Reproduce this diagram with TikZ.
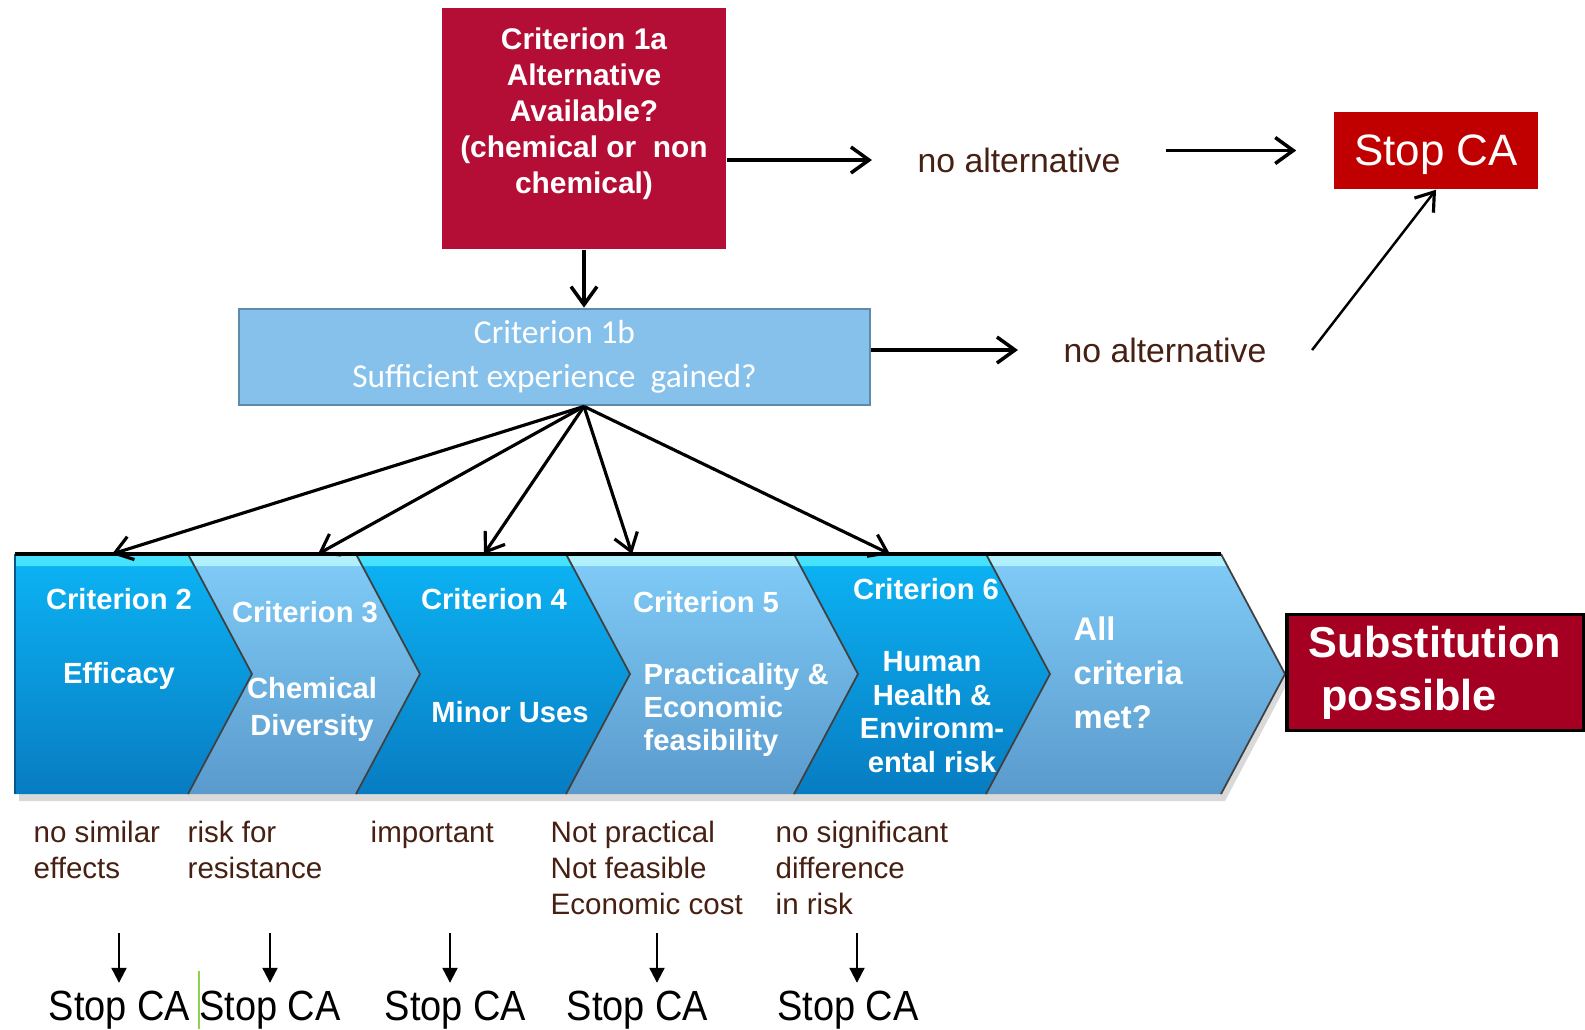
\documentclass[tikz,border=0pt]{standalone}
\usepackage{fontspec}
\setmainfont{Liberation Sans}
\newfontfamily\calfont{Carlito}
\newfontfamily\stopfont[FakeStretch=0.9]{Liberation Sans}
\usetikzlibrary{arrows.meta}

\definecolor{critred}{RGB}{181,14,54}
\definecolor{stopred}{RGB}{192,0,0}
\definecolor{subred}{RGB}{165,0,33}
\definecolor{boxblue}{RGB}{134,193,235}
\definecolor{boxedge}{RGB}{92,139,172}
\definecolor{brightblue}{RGB}{12,180,245}
\definecolor{darkblue}{RGB}{8,124,194}
\definecolor{paleblue}{RGB}{128,204,248}
\definecolor{greyblue}{RGB}{90,154,204}
\definecolor{brightline}{RGB}{70,225,250}
\definecolor{paleline}{RGB}{175,240,250}
\definecolor{labeltext}{RGB}{70,32,18}
\definecolor{stopgreen}{RGB}{146,208,80}

\begin{document}
\begin{tikzpicture}[x=0.01cm,y=-0.01cm]
  % Set styles
  \tikzset{
    crit1a box/.style={fill=critred, minimum width=2.84cm, minimum height=2.41cm, text=white, align=center, font=\fontsize{8.5}{10.2}\selectfont\bfseries},
    crit1b box/.style={draw=boxedge, line width=0.7pt, fill=boxblue, minimum width=6.31cm, minimum height=0.82cm, text=white, align=center, font=\calfont\fontsize{9.5}{12.5}\selectfont},
    stop box/.style={fill=stopred, minimum width=2.04cm, minimum height=0.77cm, text=white, text depth=0pt, font=\fontsize{12.5}{14}\selectfont},
    sub box/.style={draw=black, line width=0.9pt, fill=subred, minimum width=2.96cm, minimum height=1.03cm, text=white, align=left, font=\fontsize{12.3}{15}\selectfont\bfseries},
    alt text/.style={inner xsep=0.45cm, text=labeltext, font=\fontsize{9.6}{11}\selectfont},
    note/.style={anchor=north west, inner sep=0pt, align=left, text=labeltext, font=\fontsize{8.4}{10.3}\selectfont},
    crit title/.style={text=white, font=\fontsize{8.3}{9.5}\selectfont\bfseries},
    crit body/.style={text=white, inner sep=0pt, font=\fontsize{8.3}{9.5}\selectfont\bfseries},
    stop text/.style={anchor=base, inner sep=2pt, font=\stopfont\fontsize{12}{14}\selectfont},
    flow/.style={-{Straight Barb[length=1.8mm, width=2.6mm, line width=1pt]}, line width=1.1pt},
    fan/.style={-{Straight Barb[length=1.7mm, width=2.4mm, line width=0.9pt]}, line width=0.9pt},
    down/.style={-{Triangle[length=1.5mm, width=1.5mm]}, line width=0.6pt}
  }
  \useasboundingbox (0,0) rectangle (1585,1029);

  % Top boxes
  \node[crit1a box] (c1a) at (584,128.5) {Criterion 1a\\Alternative\\Available?\\(chemical or~ non\\chemical)\\ \mbox{}};
  \node[crit1b box] (c1b) at (554.5,357) {Criterion 1b\\Sufficient experience~ gained?};
  \node[alt text] (alt1) at (1019,160) {no alternative};
  \node[alt text] (alt2) at (1165,350) {no alternative};
  \node[stop box] (stop1) at (1436,150.5) {Stop CA};

  \draw[flow] (c1a.east |- alt1) -- (alt1.west);
  \draw[flow, shorten >=0.37cm] (alt1.east |- stop1.west) -- (stop1.west);
  \draw[flow] (c1a.south) -- (c1b.north -| c1a.south);
  \draw[flow] (c1b.east |- alt2) -- (alt2.west);
  \draw[fan, line width=0.7pt] (alt2.east) -- (stop1.south);

  % Shadow and chevron band
  \fill[black!15] (19,560) -- (1225,560) -- (1289,680) -- (1225,801) -- (19,801) -- cycle;
  \shade[top color=brightblue, bottom color=darkblue] (15,554) -- (188,554) -- (252,674) -- (188,794) -- (15,794) -- cycle;
  \fill[brightline] (15,556) -- (188,556) -- (193,566) -- (15,566) -- cycle;
  \foreach \a/\b/\ctop/\cbot/\hl in {188/356/paleblue/greyblue/paleline, 356/566/brightblue/darkblue/brightline, 566/794/paleblue/greyblue/paleline, 794/986/brightblue/darkblue/brightline, 986/1221/paleblue/greyblue/paleline}{
    \shade[top color=\ctop, bottom color=\cbot] (\a,554) -- (\b,554) -- (\b+64,674) -- (\b,794) -- (\a,794) -- (\a+64,674) -- cycle;
    \fill[\hl] (\a+1,556) -- (\b,556) -- (\b+5,566) -- (\a+6,566) -- cycle;
  }
  \foreach \b in {188,356,566,794,986,1221}
    \draw[black!75, line width=0.5pt] (\b,554) -- (\b+64,674) -- (\b,794);
  \draw[darkblue!70!black, line width=0.4pt] (15,554) -- (15,794);
  \draw[line width=1pt] (15,554) -- (1221,554);

  % Chevron texts
  \foreach \x/\y/\n in {119/599/2, 305/612/3, 494/599/4, 706/602/5, 926/589/6}
    \node[crit title] (title\n) at (\x,\y) {Criterion \n};
  \node[crit body] (body2) at (119,676) {Efficacy};
  \node[crit body, align=center, font=\fontsize{8.3}{10.5}\selectfont\bfseries] (body3) at (312,709) {Chemical\\Diversity};
  \node[crit body] (body4) at (510,712) {Minor Uses};
  \node[crit body, anchor=west, align=left] (body5) at (643,710) {Practicality \&\\Economic\\feasibility};
  \node[crit body, align=center] (body6) at (932,712) {Human\\Health \&\\Environm-\\ental risk};
  \node[crit body, anchor=west, align=left, font=\fontsize{9.3}{12.5}\selectfont\bfseries] (allmet) at (1073,673) {All\\criteria\\met?};

  \node[sub box] (subst) at (1435,672.5) {Substitution\\\hspace*{3.5pt}possible};

  % Arrows from criterion 1b to the chevrons
  \coordinate (fan) at (c1b.south -| c1a.south);
  \coordinate (t2) at (112,554);
  \coordinate (t3) at (318,554);
  \coordinate (t4) at (484,554);
  \coordinate (t5) at (632,554);
  \coordinate (t6) at (890,554);
  \foreach \t in {t2,t3,t4,t5,t6}
    \draw[fan] (fan) -- (\t);

  % Reasons below the chevrons
  \node[note] (why2) at (33,820) {no similar\\effects};
  \node[note] (why3) at (187,820) {risk for\\resistance};
  \node[note] (why4) at (370,820) {important};
  \node[note] (why5) at (550,820) {Not practical\\Not feasible\\Economic cost};
  \node[note] (why6) at (775,820) {no significant\\difference\\in risk};

  % Stop CA at the bottom
  \foreach \x/\n in {119.5/2, 270/3, 455.5/4, 637.5/5, 848/6}
    \node[stop text] (stop\n) at (\x,1020) {Stop CA};
  \foreach \x/\n in {119/2, 270/3, 450/4, 657/5, 857/6}{
    \coordinate (a\n) at (\x,933);
    \draw[down] (a\n) -- (a\n |- stop\n.north);
  }
  \draw[stopgreen, line width=0.6pt] (199,971) -- (199,1029);
\end{tikzpicture}
\end{document}
